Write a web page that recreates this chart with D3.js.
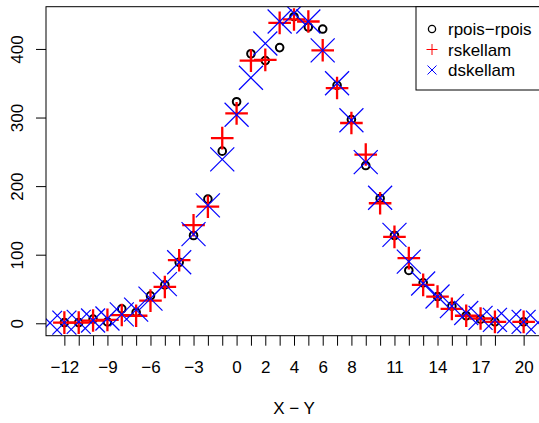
<!DOCTYPE html>
<html>
<head>
<meta charset="utf-8">
<script src="https://cdn.jsdelivr.net/npm/d3@7"></script>
<style>
  html, body { margin: 0; padding: 0; background: #fff; }
  svg { display: block; font-family: "Liberation Sans", Arial, Helvetica, sans-serif; }
</style>
</head>
<body>
<script>
// ---- data ----
const obsX = [-12,-11,-10,-9,-8,-7,-6,-5,-4,-3,-2,-1,0,1,2,3,4,5,6,7,8,9,10,11,12,13,14,15,16,17,18,20];
const rpoisCounts = [1,1,6,2,21,16,40,56,89,128,181,251,323,393,383,402,447,432,429,347,297,230,182,128,77,59,39,25,11,6,2,2];
const rskellamCounts = [1,1,4,5,12,11,33,53,92,143,170,270,306,383,384,438,443,440,398,343,292,246,175,126,95,56,39,21,11,7,2,2];
const denX = [-13,-12,-11,-10,-9,-8,-7,-6,-5,-4,-3,-2,-1,0,1,2,3,4,5,6,7,8,9,10,11,12,13,14,15,16,17,18,19,20,21];
const dskellamCounts = [0.5,1,2,4,7,13,20,36,57,89,130,172,239,304,358,408,440,452,440,398,350,296,235,183,129,90,58,39,25,15,8,5,3,2,1];
const xTickValues = obsX;
const xTickLabels = [-12,-9,-6,-3,0,2,4,6,8,11,14,17,20];
const yTickValues = [0,100,200,300,400];
const legendLabels = ["rpois\u2212rpois", "rskellam", "dskellam"];
const xTitle = "X \u2212 Y";

// ---- layout ----
const W = 539, H = 423;
const plot = { left: 46, right: 542, top: 6.7, bottom: 335.7 };

const svg = d3.select("body").append("svg").attr("width", W).attr("height", H);

const x = d3.scaleLinear().domain([-13.28, 21.28]).range([plot.left, plot.right]);
const y = d3.scaleLinear().domain([-18.1, 461.6]).range([plot.bottom, plot.top]);

svg.append("defs").append("clipPath").attr("id", "clip")
  .append("rect").attr("x", plot.left).attr("y", plot.top)
  .attr("width", plot.right - plot.left).attr("height", plot.bottom - plot.top);

const g = svg.append("g").attr("clip-path", "url(#clip)");

// circles (rpois - rpois)
g.selectAll("circle.obs").data(obsX.map((v, i) => [v, rpoisCounts[i]])).join("circle")
  .attr("class", "obs")
  .attr("cx", d => x(d[0])).attr("cy", d => y(d[1])).attr("r", 3.8)
  .attr("fill", "none").attr("stroke", "#000").attr("stroke-width", 2);

// red plus (rskellam)
const plusA = 11.3;
const rp = g.selectAll("g.plus").data(obsX.map((v, i) => [v, rskellamCounts[i]])).join("g")
  .attr("class", "plus").attr("transform", d => `translate(${x(d[0])},${y(d[1])})`);
rp.append("line").attr("x1", -plusA).attr("x2", plusA).attr("y1", 0).attr("y2", 0)
  .attr("stroke", "#ff0000").attr("stroke-width", 2.3);
rp.append("line").attr("x1", 0).attr("x2", 0).attr("y1", -plusA).attr("y2", plusA)
  .attr("stroke", "#ff0000").attr("stroke-width", 2.3);

// blue cross (dskellam)
const crossA = 12;
const bx = g.selectAll("g.cross").data(denX.map((v, i) => [v, dskellamCounts[i]])).join("g")
  .attr("class", "cross").attr("transform", d => `translate(${x(d[0])},${y(d[1])})`);
bx.append("line").attr("x1", -crossA).attr("x2", crossA).attr("y1", -crossA).attr("y2", crossA)
  .attr("stroke", "#0000ff").attr("stroke-width", 1.2);
bx.append("line").attr("x1", -crossA).attr("x2", crossA).attr("y1", crossA).attr("y2", -crossA)
  .attr("stroke", "#0000ff").attr("stroke-width", 1.2);

// box
svg.append("rect").attr("x", plot.left).attr("y", plot.top)
  .attr("width", plot.right - plot.left).attr("height", plot.bottom - plot.top)
  .attr("fill", "none").attr("stroke", "#000").attr("stroke-width", 1);

// x axis
const xAxis = d3.axisBottom(x).tickValues(xTickValues).tickSize(10).tickPadding(0)
  .tickFormat(d => xTickLabels.includes(d) ? String(d).replace("-", "\u2212") : "");
const xa = svg.append("g").attr("transform", `translate(0,${plot.bottom})`).call(xAxis);
xa.select(".domain").remove();
xa.selectAll(".tick line").attr("stroke", "#000");
xa.selectAll(".tick text").attr("font-size", 17).attr("fill", "#000")
  .attr("y", 37).attr("dy", 0).attr("font-family", "Liberation Sans, Arial, sans-serif");

// y axis
const yAxis = d3.axisLeft(y).tickValues(yTickValues).tickSize(10).tickFormat(d3.format("d"));
const ya = svg.append("g").attr("transform", `translate(${plot.left},0)`).call(yAxis);
ya.select(".domain").remove();
ya.selectAll(".tick line").attr("stroke", "#000");
ya.selectAll(".tick text")
  .attr("font-size", 17).attr("fill", "#000").attr("font-family", "Liberation Sans, Arial, sans-serif")
  .attr("x", null).attr("dy", null)
  .attr("text-anchor", "middle")
  .attr("transform", "translate(-23,0) rotate(-90)");

// x title
svg.append("text").attr("x", (plot.left + plot.right) / 2).attr("y", 414)
  .attr("text-anchor", "middle").attr("font-size", 17).text(xTitle);

// legend
const lg = svg.append("g");
lg.append("rect").attr("x", 416).attr("y", plot.top).attr("width", plot.right - 416).attr("height", 90 - plot.top)
  .attr("fill", "#fff").attr("stroke", "#000").attr("stroke-width", 1);
const rows = [29, 49.5, 70];
const sx = 432;
lg.append("circle").attr("cx", sx).attr("cy", rows[0]).attr("r", 3.6)
  .attr("fill", "none").attr("stroke", "#000").attr("stroke-width", 1.3);
lg.append("line").attr("x1", sx - 5.5).attr("x2", sx + 5.5).attr("y1", rows[1]).attr("y2", rows[1]).attr("stroke", "#ff0000");
lg.append("line").attr("x1", sx).attr("x2", sx).attr("y1", rows[1] - 5.5).attr("y2", rows[1] + 5.5).attr("stroke", "#ff0000");
lg.append("line").attr("x1", sx - 4.5).attr("x2", sx + 4.5).attr("y1", rows[2] - 4.5).attr("y2", rows[2] + 4.5).attr("stroke", "#0000ff");
lg.append("line").attr("x1", sx - 4.5).attr("x2", sx + 4.5).attr("y1", rows[2] + 4.5).attr("y2", rows[2] - 4.5).attr("stroke", "#0000ff");
legendLabels.forEach((t, i) => {
  lg.append("text").attr("x", 448).attr("y", rows[i] + 6).attr("font-size", 17).text(t);
});
</script>
</body>
</html>
